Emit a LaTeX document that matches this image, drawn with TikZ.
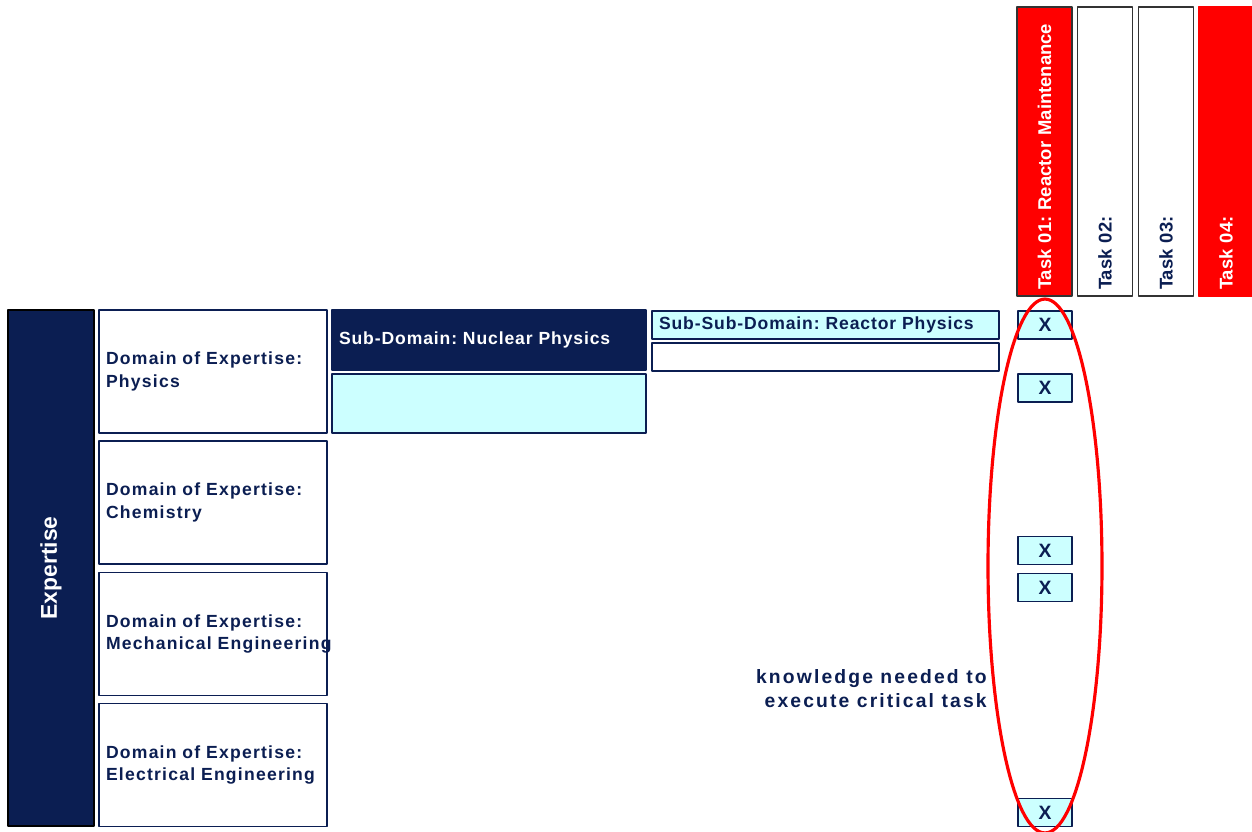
\documentclass[tikz,border=0pt]{standalone}
\usepackage{fontspec}
\setmainfont{Liberation Sans}
\frenchspacing
\definecolor{navy}{HTML}{0B1E52}
\definecolor{paleblue}{HTML}{CCFFFF}
\definecolor{taskred}{HTML}{FF0000}

\tikzset{
  expbar/.style={draw=black, fill=navy, line width=1pt, rotate=90,
    minimum width=10.32cm, minimum height=1.72cm, text=white,
    font=\bfseries\fontsize{13}{15}\selectfont},
  dombox/.style={draw=navy, fill=white, line width=0.8pt,
    minimum width=4.56cm, minimum height=2.46cm, inner xsep=0.14cm,
    text width=4.28cm, align=left, text=navy,
    font=\bfseries\fontsize{10}{13}\selectfont\addfontfeatures{LetterSpace=7}},
  subbox/.style={draw=navy, line width=0.8pt, minimum width=6.28cm,
    inner xsep=0.14cm, text width=6cm, align=left,
    font=\bfseries\fontsize{10}{13}\selectfont\addfontfeatures{LetterSpace=5}},
  subsubbox/.style={draw=navy, line width=0.8pt, minimum width=6.94cm,
    minimum height=0.56cm, inner xsep=0.14cm, inner ysep=0pt,
    text width=6.66cm, align=left, text=navy,
    font=\bfseries\fontsize{10}{12}\selectfont\addfontfeatures{LetterSpace=5}},
  xbox/.style={draw=navy, fill=paleblue, line width=0.8pt,
    minimum width=1.08cm, minimum height=0.56cm, inner sep=0pt,
    text=navy, font=\bfseries\fontsize{11}{12}\selectfont},
  taskbox/.style={draw=black!80, line width=0.8pt, rotate=90,
    minimum width=5.78cm, minimum height=1.1cm, inner xsep=0.12cm,
    text width=5.54cm, align=left,
    font=\bfseries\fontsize{10.5}{12}\selectfont},
}

\begin{document}
\begin{tikzpicture}[x=0.02cm, y=-0.02cm, line join=round]
  \useasboundingbox (0,0) rectangle (1252,832);

  % expertise bar
  \node[expbar] (exp) at (51,568) {Expertise};

  % domains
  \node[dombox] (phys) at (213,371.5) {Domain of Expertise:\\Physics};
  \node[dombox] (chem) at (213,502.5) {Domain of Expertise:\\Chemistry};
  \node[dombox] (mech) at (213,634) {Domain of Expertise:\\\mbox{Mechanical Engineering}};
  \node[dombox] (elec) at (213,765) {Domain of Expertise:\\\mbox{Electrical Engineering}};

  % sub-domains
  \node[subbox, fill=navy, text=white, minimum height=1.2cm] (nucl) at (489,340) {Sub-Domain: Nuclear Physics};
  \node[subbox, fill=paleblue, minimum height=1.18cm] (sub2) at (489,403.5) {};

  % sub-sub-domains
  \node[subsubbox, fill=paleblue] (react) at (825.5,325) {Sub-Sub-Domain: Reactor Physics};
  \node[subsubbox, fill=white] (ssub2) at (825.5,357) {};

  % tasks
  \node[taskbox, fill=taskred, text=white] (t1) at (1044.5,151.5) {Task 01: Reactor Maintenance};
  \node[taskbox, fill=white, text=navy] (t2) at (1105,151.5) {Task 02:};
  \node[taskbox, fill=white, text=navy] (t3) at (1166,151.5) {Task 03:};
  \node[taskbox, fill=taskred, text=white, draw=taskred] (t4) at (1226,151.5) {Task 04:};

  % marks
  \foreach \name/\y in {x1/325, x2/388, x3/550.5, x4/587.5, x5/812.5}
    \node[xbox] (\name) at (1045,\y) {X};

  % critical task
  \draw[taskred, line width=1.8pt] (1045,566) ellipse [x radius=1.14cm, y radius=5.34cm];
  \node[anchor=east, align=right, text=navy, inner sep=0pt,
    font=\bfseries\fontsize{11}{14}\selectfont\addfontfeatures{LetterSpace=11}] (know) at (987,688.5)
    {knowledge needed to\\execute critical task};
\end{tikzpicture}
\end{document}
